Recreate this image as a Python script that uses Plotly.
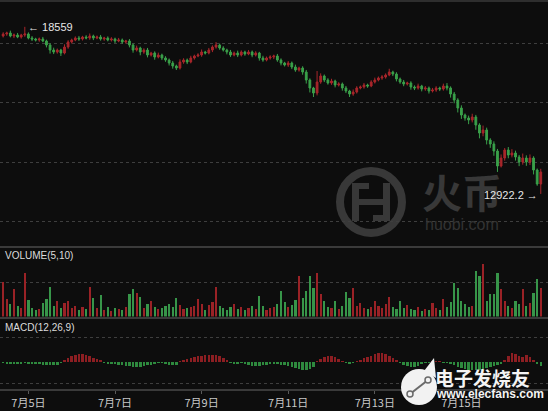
import plotly.graph_objects as go
import pandas as pd

# ---------------- data ----------------
start_time = "2017-07-04 10:00"
bar_freq = "2h"
first_open = 18250

closes = [18317, 18351, 18250, 18283, 18216, 18283, 18317, 18182, 18149, 18115,
          18149, 18081, 17946, 17777, 17710, 17777, 17676, 17879, 18047, 18115,
          18182, 18149, 18216, 18182, 18250, 18182, 18216, 18149, 18182, 18115,
          18149, 18081, 18115, 18047, 18081, 17946, 17777, 17845, 17710, 17777,
          17609, 17676, 17541, 17609, 17508, 17440, 17339, 17238, 17170, 17373,
          17440, 17373, 17508, 17575, 17609, 17710, 17676, 17777, 17879, 17946,
          17845, 17777, 17710, 17609, 17676, 17609, 17710, 17643, 17710, 17609,
          17676, 17508, 17440, 17508, 17541, 17575, 17440, 17339, 17272, 17339,
          17204, 17103, 17170, 17035, 16766, 16496, 16327, 16698, 16901, 16766,
          16664, 16732, 16597, 16631, 16496, 16395, 16293, 16361, 16496, 16529,
          16597, 16563, 16698, 16766, 16833, 16867, 16934, 17035, 16968, 16799,
          16698, 16631, 16664, 16529, 16496, 16563, 16462, 16496, 16395, 16428,
          16496, 16462, 16563, 16496, 16293, 16091, 15821, 15585, 15484, 15416,
          15518, 15248, 14978, 15079, 14742, 14607, 14371, 13865, 14135, 14404,
          14236, 14303, 14168, 14000, 14135, 14000, 14135, 13730, 13257, 13662]

upper_wick = [60, 45, 80, 50, 70, 40, 242, 55, 65, 40,
              50, 70, 45, 60, 80, 50, 40, 90, 60, 45,
              55, 70, 40, 60, 85, 45, 50, 70, 40, 55,
              60, 45, 70, 50, 40, 65, 50, 80, 45, 60,
              70, 40, 55, 80, 45, 60, 50, 70, 45, 90,
              60, 50, 75, 45, 60, 85, 40, 70, 55, 100,
              50, 60, 45, 70, 50, 80, 55, 45, 65, 50,
              60, 40, 75, 50, 60, 45, 70, 55, 40, 65,
              50, 80, 45, 60, 70, 55, 40, 371, 90, 50,
              60, 75, 45, 60, 50, 70, 40, 85, 60, 50,
              70, 45, 60, 80, 50, 65, 55, 110, 45, 60,
              50, 70, 45, 60, 55, 80, 40, 65, 50, 70,
              60, 45, 80, 100, 55, 70, 60, 90, 50, 80,
              110, 70, 60, 150, 80, 60, 90, 70, 120, 68,
              100, 130, 80, 70, 150, 90, 120, 60, 50, 110]

lower_wick = [50, 60, 45, 70, 40, 55, 60, 45, 70, 50,
              60, 40, 80, 120, 70, 55, 100, 45, 60, 50,
              40, 65, 50, 45, 60, 70, 40, 55, 60, 45,
              50, 70, 40, 60, 55, 80, 90, 50, 110, 60,
              80, 50, 90, 45, 70, 60, 85, 90, 67, 50,
              60, 70, 45, 55, 40, 60, 50, 45, 70, 55,
              60, 50, 80, 65, 45, 70, 50, 60, 40, 75,
              50, 90, 60, 45, 55, 70, 60, 80, 50, 65,
              70, 60, 55, 90, 120, 150, 135, 80, 60, 70,
              55, 60, 80, 50, 90, 70, 100, 60, 50, 45,
              55, 60, 40, 50, 45, 60, 55, 40, 70, 80,
              60, 75, 50, 90, 70, 55, 80, 60, 85, 50,
              60, 70, 55, 80, 120, 110, 150, 130, 90, 140,
              80, 160, 180, 110, 150, 130, 160, 200, 50, 90,
              110, 80, 120, 140, 90, 130, 100, 150, 60, 334.8]

volumes = [1020, 510, 360, 810, 300, 240, 1290, 480, 240, 180,
           210, 390, 510, 870, 300, 450, 240, 390, 450, 240,
           300, 180, 270, 210, 870, 540, 240, 630, 180, 270,
           150, 240, 210, 180, 270, 660, 810, 690, 570, 240,
           360, 450, 270, 210, 240, 300, 360, 270, 540, 330,
           210, 240, 270, 300, 510, 360, 180, 330, 420, 870,
           300, 240, 180, 270, 360, 210, 270, 180, 240, 300,
           210, 600, 300, 180, 240, 270, 360, 750, 420, 270,
           330, 480, 1200, 540, 750, 1200, 840, 1290, 660, 450,
           270, 240, 450, 210, 300, 720, 540, 840, 300, 390,
           240, 210, 270, 450, 300, 240, 360, 570, 270, 210,
           450, 240, 330, 210, 180, 270, 150, 210, 180, 390,
           240, 180, 510, 270, 420, 990, 840, 450, 360, 270,
           300, 1350, 1200, 1530, 450, 660, 660, 1290, 810, 450,
           300, 240, 450, 360, 810, 300, 390, 690, 1110, 840]

macd_hist = [-4, -8, -8, -8, -8, -6, -4, -6, -8, -8, -8, -10, -12, -12, -12, -10, -4,
             8, 16, 24, 28, 32, 32, 28, 24, 16, 12, 6,
             -4, -8, -8, -8, -10, -12, -14, -16, -20, -20, -18, -16, -12, -10, -8, -4,
             -2,
             -8, -12, -12, -10,
             4, 8, 12, 16, 20, 24, 26, 28, 28, 28, 30, 24, 16, 8,
             -4, -8, -8, -4,
             -8, -12, -14, -16, -14, -12, -10, -8,
             -8, -8, -10,
             -12, -16, -20, -24, -28, -32, -32, -28, -20,
             4, 12, 20, 24, 24, 20, 12, 4,
             -4, -8, -4,
             4, 8, 16, 20, 24, 32, 36, 36, 32, 24, 16, 8,
             -4, -12, -16, -20, -20, -16, -8,
             -4, -2, 2, 4, 2, -2, -4,
             -8, -12, -20, -24, -28, -32, -32, -32, -32, -28, -24, -20, -16, -12, -8,
             8, 24, 36, 32, 24, 20, 28, 20, 8,
             -8, -16]

tick_dates = ["2017-07-05", "2017-07-07", "2017-07-09",
              "2017-07-11", "2017-07-13", "2017-07-15"]
tick_labels = ["7月5日", "7月7日", "7月9日", "7月11日", "7月13日", "7月15日"]
price_grid = [12000, 14000, 16000, 18000]
volume_grid = [1000]
macd_grid = [-84, 100]
volume_title = "VOLUME(5,10)"
macd_title = "MACD(12,26,9)"

# ---------------- derived series ----------------
n = len(closes)
assert len(upper_wick) == n and len(lower_wick) == n
assert len(volumes) == n and len(macd_hist) == n
times = pd.date_range(start_time, periods=n, freq=bar_freq)
opens = [first_open] + closes[:-1]
highs = [max(o, c) + u for o, c, u in zip(opens, closes, upper_wick)]
lows = [round(min(o, c) - l, 1) for o, c, l in zip(opens, closes, lower_wick)]

RED = "#a8262b"
GREEN = "#3aa04a"
VRED = "#9a2226"
VGREEN = "#379549"
MRED = "#8c1e22"
MGREEN = "#2e8a3e"
BG = "#0d0d0d"
GRID = "#3e3e3e"
SEP = "#3a3a3a"
WM = "#383838"

W, H = 548, 411
def px(x):
    return x / W
def py(y):
    return 1 - y / H

x_range = ["2017-07-04 08:15", "2017-07-17 00:00"]
step_ms = 2 * 3600 * 1000

fig = go.Figure()
fig.add_trace(go.Candlestick(
    x=times, open=opens, high=highs, low=lows, close=closes,
    increasing=dict(line=dict(color=RED, width=1), fillcolor=RED),
    decreasing=dict(line=dict(color=GREEN, width=1), fillcolor=GREEN),
    whiskerwidth=0, hoverinfo="skip", showlegend=False,
    xaxis="x", yaxis="y"))

vol_colors = [VRED if c >= o else VGREEN for o, c in zip(opens, closes)]
fig.add_trace(go.Bar(x=times, y=volumes, marker=dict(color=vol_colors, line=dict(width=0)),
                     width=step_ms * 0.6, hoverinfo="skip", showlegend=False,
                     xaxis="x2", yaxis="y2"))

macd_colors = [MRED if v >= 0 else MGREEN for v in macd_hist]
fig.add_trace(go.Bar(x=times, y=macd_hist, marker=dict(color=macd_colors, line=dict(width=0)),
                     width=step_ms * 0.7, hoverinfo="skip", showlegend=False,
                     xaxis="x3", yaxis="y3"))

hidden_x = dict(range=x_range, showticklabels=False, showgrid=False, zeroline=False,
                ticks="", showline=False)
grid_y = dict(showticklabels=False, showgrid=True, gridcolor=GRID, gridwidth=1,
              griddash="dot", zeroline=False, ticks="", showline=False)

fig.update_layout(
    width=W, height=H,
    margin=dict(l=0, r=0, t=0, b=0),
    paper_bgcolor=BG, plot_bgcolor=BG,
    bargap=0,
    xaxis=dict(**hidden_x, domain=[0, 1], anchor="y", rangeslider=dict(visible=False)),
    yaxis=dict(**grid_y, domain=[py(247), py(2)], range=[11133, 19397], tickvals=price_grid),
    xaxis2=dict(**hidden_x, domain=[0, 1], anchor="y2"),
    yaxis2=dict(**grid_y, domain=[py(316.5), py(250)], range=[0, 1955], tickvals=volume_grid),
    xaxis3=dict(range=x_range, domain=[0, 1], anchor="y3", showgrid=False, zeroline=False,
                tickvals=tick_dates, ticktext=tick_labels, ticks="outside", ticklen=3,
                tickcolor="#5a5a5a", showline=True, linecolor=SEP, linewidth=2,
                tickfont=dict(family="Noto Sans CJK SC", size=11, color="#c8c8c8")),
    yaxis3=dict(**grid_y, domain=[py(389), py(320)], range=[-108, 168], tickvals=macd_grid),
)

shapes = []
# panel separators
for yy, col in [(1, "#2e2e2e"), (247, SEP), (318, SEP)]:
    shapes.append(dict(type="line", xref="paper", yref="paper", x0=0, x1=1,
                       y0=py(yy), y1=py(yy), line=dict(color=col, width=2)))
# huobi watermark (circle logo)
shapes.append(dict(type="circle", xref="paper", yref="paper", layer="below",
                   x0=px(340), x1=px(402), y0=py(233), y1=py(171),
                   line=dict(color=WM, width=8)))
for (a, b, c, d) in [(352, 183, 359, 221), (383, 183, 390, 221), (359, 183, 369, 189),
                     (373, 215, 383, 221), (359, 199, 383, 205)]:
    shapes.append(dict(type="rect", xref="paper", yref="paper", layer="below",
                       x0=px(a), x1=px(c), y0=py(d), y1=py(b),
                       fillcolor=WM, line=dict(width=0)))
# elecfans watermark
shapes.append(dict(type="path", xref="paper", yref="paper",
                   path=f"M {px(424)},{py(371)} L {px(434)},{py(358)} L {px(436)},{py(378)} Z",
                   fillcolor="#f2f2f2", line=dict(width=0)))
shapes.append(dict(type="circle", xref="paper", yref="paper",
                   x0=px(401), x1=px(437), y0=py(405), y1=py(369),
                   fillcolor="#f2f2f2", line=dict(width=0)))
shapes.append(dict(type="line", xref="paper", yref="paper",
                   x0=px(410), y0=py(394), x1=px(428), y1=py(380),
                   line=dict(color="#6a6a6a", width=2)))
for (cx, cy) in [(410, 394), (428, 380)]:
    shapes.append(dict(type="circle", xref="paper", yref="paper",
                       x0=px(cx - 3), x1=px(cx + 3), y0=py(cy + 3), y1=py(cy - 3),
                       fillcolor="#f2f2f2", line=dict(color="#6a6a6a", width=1.5)))
fig.update_layout(shapes=shapes)

hi_i = max(range(n), key=lambda i: highs[i])
lo_i = min(range(n), key=lambda i: lows[i])
label_font = dict(family="Liberation Sans", size=11, color="#e6e6e6")
annotations = [
    # huobi watermark text first, so chart labels draw above it
    dict(x=px(462), y=py(191), xref="paper", yref="paper", text="火币", showarrow=False,
         xanchor="center", yanchor="middle",
         font=dict(family="Noto Sans CJK SC", size=40, color=WM, weight=700)),
    dict(x=px(462), y=py(224), xref="paper", yref="paper", text="huobi.com", showarrow=False,
         xanchor="center", yanchor="middle",
         font=dict(family="Liberation Sans", size=16, color="#333333")),
    dict(x=times[hi_i], y=highs[hi_i], xref="x", yref="y", text="← " + f"{highs[hi_i]:g}",
         showarrow=False, xanchor="left", yanchor="middle", xshift=1, font=label_font),
    dict(x=times[lo_i], y=lows[lo_i], xref="x", yref="y", text=f"{lows[lo_i]:g}" + " →",
         showarrow=False, xanchor="right", yanchor="middle", xshift=-1, yshift=-1, font=label_font),
    dict(x=px(3), y=py(255), xref="paper", yref="paper", text=volume_title, showarrow=False,
         xanchor="left", yanchor="middle", font=dict(family="Liberation Sans", size=10, color="#dcdcdc")),
    dict(x=px(3), y=py(327), xref="paper", yref="paper", text=macd_title, showarrow=False,
         xanchor="left", yanchor="middle", font=dict(family="Liberation Sans", size=10, color="#dcdcdc")),
    # elecfans watermark (on top of everything)
    dict(x=px(482), y=py(377), xref="paper", yref="paper", text="电子发烧友", showarrow=False,
         xanchor="center", yanchor="middle",
         font=dict(family="Noto Sans CJK SC", size=19, color="#f4f4f4", weight=700)),
    dict(x=px(490), y=py(394), xref="paper", yref="paper", text="www.elecfans.com", showarrow=False,
         xanchor="center", yanchor="middle",
         font=dict(family="Liberation Sans", size=12, color="#f4f4f4", weight=700)),
]
fig.update_layout(annotations=annotations)

fig.write_html("out.html", config=dict(displayModeBar=False),
               post_script="document.body.style.margin='0';document.body.style.overflow='hidden';")
